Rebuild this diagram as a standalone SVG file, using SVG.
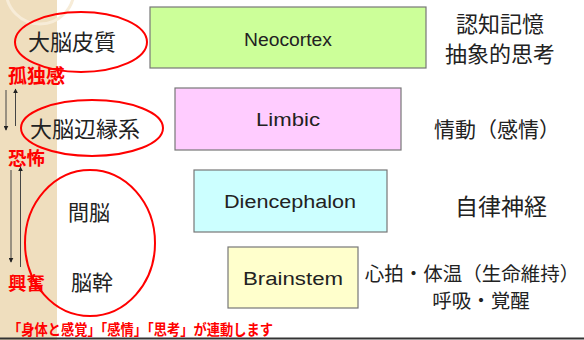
<svg xmlns="http://www.w3.org/2000/svg" width="584" height="340" viewBox="0 0 584 340">
<defs>
<style>
.jp{font-family:"Noto Sans CJK JP","Liberation Sans",sans-serif;fill:#222}
.red{font-family:"Noto Sans CJK JP","Liberation Sans",sans-serif;fill:#FF0000;font-weight:bold}
.lbl{font-family:"Liberation Sans","Noto Sans CJK JP",sans-serif;font-size:18px;fill:#222;text-anchor:middle}
.box{stroke:#777;stroke-width:1.2}
.ring{fill:none;stroke:#FF0000;stroke-width:2}
.arr{stroke:#444;stroke-width:1;marker-end:url(#ah)}
</style>
<marker id="ah" viewBox="0 0 8 8" refX="7" refY="4" markerWidth="5" markerHeight="5" orient="auto"><path d="M0,0 L8,4 L0,8 z" fill="#222"/></marker>
</defs>
<rect x="0" y="0" width="584" height="340" fill="#FFFFFF"/>
<rect x="0" y="0" width="57" height="340" fill="#EFDEBE"/>
<circle cx="40" cy="-10" r="34" fill="none" stroke="#F7ECD8" stroke-width="3"/>
<line x1="0" y1="338.5" x2="584" y2="338.5" stroke="#333" stroke-width="2"/>

<g id="neocortex"><rect class="box" x="150" y="7" width="276" height="61" fill="#CCFF99"/><text class="lbl" x="288" y="46" textLength="88" lengthAdjust="spacingAndGlyphs">Neocortex</text></g>
<g id="limbic"><rect class="box" x="175" y="88" width="226" height="62" fill="#FFCCFF"/><text class="lbl" x="288" y="126" textLength="64" lengthAdjust="spacingAndGlyphs">Limbic</text></g>
<g id="diencephalon"><rect class="box" x="194" y="170" width="193" height="62" fill="#CCFFFF"/><text class="lbl" x="290" y="208" textLength="132" lengthAdjust="spacingAndGlyphs">Diencephalon</text></g>
<g id="brainstem"><rect class="box" x="228" y="247" width="130" height="61" fill="#FFFFCC"/><text class="lbl" x="293" y="285" textLength="100" lengthAdjust="spacingAndGlyphs">Brainstem</text></g>

<g id="cortex-label"><ellipse class="ring" cx="81" cy="42" rx="66" ry="30"/><text class="jp" x="28" y="50" font-size="22">大脳皮質</text></g>
<g id="limbic-label"><ellipse class="ring" cx="92" cy="128" rx="71" ry="28"/><text class="jp" x="30" y="137" font-size="22">大脳辺縁系</text></g>
<g id="lower-label"><ellipse class="ring" cx="90" cy="243" rx="65" ry="73"/><text class="jp" x="68" y="220" font-size="21">間脳</text><text class="jp" x="71" y="290" font-size="21">脳幹</text></g>

<g id="right-labels">
<text class="jp" x="500" y="32" font-size="22" text-anchor="middle">認知記憶</text>
<text class="jp" x="500" y="62" font-size="22" text-anchor="middle">抽象的思考</text>
<text class="jp" x="497" y="137" font-size="21" text-anchor="middle">情動（感情）</text>
<text class="jp" x="501" y="215" font-size="23" text-anchor="middle">自律神経</text>
<text class="jp" x="472" y="281" font-size="19.5" text-anchor="middle">心拍・体温（生命維持）</text>
<text class="jp" x="481" y="308" font-size="19.5" text-anchor="middle">呼吸・覚醒</text>
</g>

<g id="emotions">
<text class="red" x="8" y="83" font-size="19">孤独感</text>
<text class="red" x="8" y="165" font-size="18.5">恐怖</text>
<text class="red" x="8" y="290" font-size="18.5">興奮</text>
</g>

<g id="connectors">
<line class="arr" x1="6" y1="90" x2="6" y2="130"/>
<line class="arr" x1="15.5" y1="126" x2="15.5" y2="89"/>
<line class="arr" x1="11" y1="170" x2="11" y2="262"/>
<line class="arr" x1="20.5" y1="267" x2="20.5" y2="167"/>
</g>

<text class="red" x="8" y="335" font-size="14.5" textLength="265" lengthAdjust="spacingAndGlyphs">「身体と感覚」「感情」「思考」が連動します</text>
</svg>
